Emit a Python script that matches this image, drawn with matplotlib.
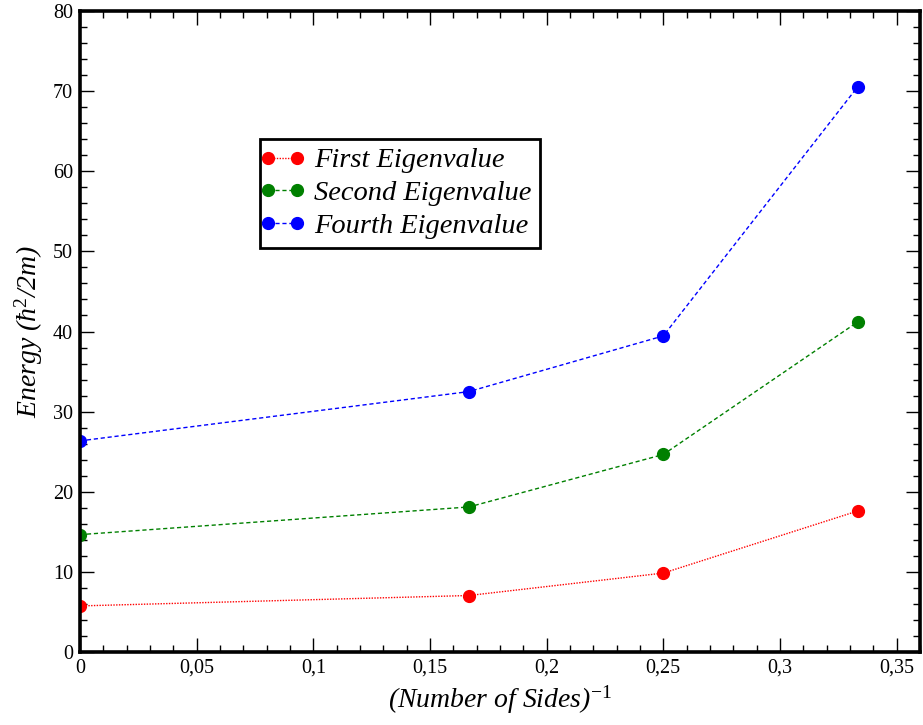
import matplotlib
matplotlib.use("Agg")
import matplotlib.pyplot as plt
from matplotlib.ticker import MultipleLocator, FuncFormatter
from matplotlib.legend_handler import HandlerLine2D
from matplotlib.lines import Line2D

plt.rcParams['font.family'] = ['Liberation Serif', 'DejaVu Serif']
plt.rcParams['mathtext.fontset'] = 'custom'
plt.rcParams['mathtext.rm'] = 'Liberation Serif'
plt.rcParams['mathtext.it'] = 'Liberation Serif:italic'

x = [0.0, 1/6, 0.25, 1/3]
first = [5.75, 7.05, 9.85, 17.6]
second = [14.65, 18.1, 24.65, 41.2]
fourth = [26.35, 32.5, 39.45, 70.55]
series_labels = ['First Eigenvalue', 'Second Eigenvalue', 'Fourth Eigenvalue']

fig = plt.figure(figsize=(9.23, 7.25), dpi=100)
ax = fig.add_axes([0.0867, 0.1007, 0.9100, 0.8841])

ax.plot(x, first, color='red', linestyle=(0, (1, 1)), linewidth=1, marker='o', markersize=8.5, label=series_labels[0])
ax.plot(x, second, color='green', linestyle=(0, (3, 2)), linewidth=1, marker='o', markersize=8.5, label=series_labels[1])
ax.plot(x, fourth, color='blue', linestyle=(0, (3, 2)), linewidth=1, marker='o', markersize=8.5, label=series_labels[2])

ax.set_xlim(0, 0.36)
ax.set_ylim(0, 80)
ax.xaxis.set_major_locator(MultipleLocator(0.05))
ax.xaxis.set_minor_locator(MultipleLocator(0.01))
ax.yaxis.set_major_locator(MultipleLocator(10))
ax.yaxis.set_minor_locator(MultipleLocator(2))

def fmt(v, pos):
    s = ('%.2f' % v).rstrip('0').rstrip('.')
    if s == '-0':
        s = '0'
    return s.replace('.', ',')

ax.xaxis.set_major_formatter(FuncFormatter(fmt))
ax.yaxis.set_major_formatter(FuncFormatter(lambda v, p: '%d' % v))

for s in ax.spines.values():
    s.set_linewidth(2.6)
ax.tick_params(which='both', direction='in', top=True, right=True, labelsize=14.5, width=1)
ax.tick_params(which='major', length=10)
ax.tick_params(which='minor', length=5)
ax.tick_params(axis='x', pad=5)
ax.tick_params(axis='y', pad=5)

ax.set_xlabel('(Number of Sides)$^{-1}$', fontsize=20, fontstyle='italic', labelpad=4)
ax.set_ylabel('Energy (ħ$^2$/2m)', fontsize=20, fontstyle='italic', labelpad=6)

leg = ax.legend(loc='upper left', bbox_to_anchor=(0.2138, 0.8003), fancybox=False, framealpha=1,
                edgecolor='black', prop={'family': 'Liberation Serif', 'style': 'italic', 'size': 20.5},
                numpoints=2, handlelength=1.0, handletextpad=0.6, borderpad=0.3,
                labelspacing=0.24, borderaxespad=0,
                handler_map={Line2D: HandlerLine2D(marker_pad=0)})
leg.get_frame().set_linewidth(2)

fig.savefig('out.png', dpi=100)
